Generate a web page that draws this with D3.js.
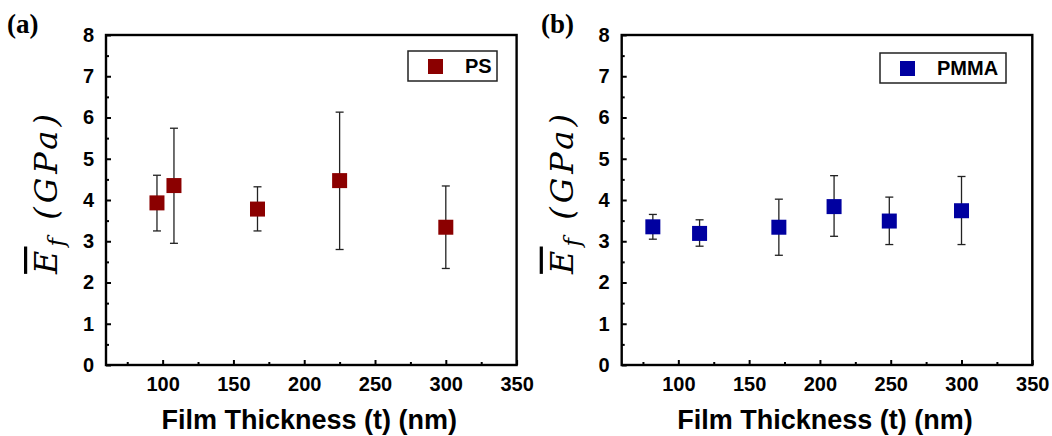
<!DOCTYPE html>
<html>
<head>
<meta charset="utf-8">
<script src="https://cdn.jsdelivr.net/npm/d3@7"></script>
<style>
  body { margin: 0; background: #fff; }
  svg text { font-family: Arial, "Liberation Sans", sans-serif; }
</style>
</head>
<body>
<div id="container"></div>
<script>
const WIDTH = 1052;
const HEIGHT = 436;

// Data
const psThickness = [96, 108, 167, 225, 300];
const psModulus   = [3.93, 4.35, 3.78, 4.47, 3.34];
const psErrTop    = [4.60, 5.74, 4.32, 6.13, 4.34];
const psErrBottom = [3.25, 2.95, 3.25, 2.80, 2.34];

const pmmaThickness = [82, 115, 171, 210, 249, 300];
const pmmaModulus   = [3.35, 3.19, 3.34, 3.84, 3.49, 3.74];
const pmmaErrTop    = [3.65, 3.52, 4.02, 4.59, 4.07, 4.57];
const pmmaErrBottom = [3.05, 2.88, 2.66, 3.12, 2.92, 2.92];

const xTicks = [100, 150, 200, 250, 300, 350];
const xMinorTicks = [75, 125, 175, 225, 275, 325];
const yTicks = [0, 1, 2, 3, 4, 5, 6, 7, 8];
const yMinorTicks = [0.5, 1.5, 2.5, 3.5, 4.5, 5.5, 6.5, 7.5];

const svg = d3.select('#container').append('svg')
    .attr('width', WIDTH)
    .attr('height', HEIGHT);

function drawPanel(cfg) {
  const x = d3.scaleLinear().domain([60, 350]).range([cfg.left, cfg.left + 410.6]);
  const y = d3.scaleLinear().domain([0, 8]).range([365, 35]);
  const g = svg.append('g');

  // frame
  g.append('rect')
    .attr('x', x.range()[0]).attr('y', y.range()[1])
    .attr('width', x.range()[1] - x.range()[0])
    .attr('height', y.range()[0] - y.range()[1])
    .attr('fill', 'none').attr('stroke', '#000').attr('stroke-width', 2.4);

  // x axis
  const xAxis = g.append('g').attr('transform', 'translate(0,' + y(0) + ')')
    .call(d3.axisBottom(x).tickValues(xTicks).tickSize(-5).tickPadding(12).tickFormat(d3.format('d')));
  xAxis.select('.domain').remove();
  xAxis.selectAll('.tick line').attr('stroke-width', 2);
  xAxis.selectAll('text').attr('font-size', 20).attr('font-weight', 'bold').attr('fill', '#000');
  const xMinor = g.append('g').attr('transform', 'translate(0,' + y(0) + ')')
    .call(d3.axisBottom(x).tickValues(xMinorTicks).tickSize(-3).tickFormat(''));
  xMinor.select('.domain').remove();
  xMinor.selectAll('.tick line').attr('stroke-width', 2);

  // y axis
  const yAxis = g.append('g').attr('transform', 'translate(' + x.range()[0] + ',0)')
    .call(d3.axisLeft(y).tickValues(yTicks).tickSize(-5).tickPadding(12));
  yAxis.select('.domain').remove();
  yAxis.selectAll('.tick line').attr('stroke-width', 2);
  yAxis.selectAll('text').attr('font-size', 20).attr('font-weight', 'bold').attr('fill', '#000');
  const yMinor = g.append('g').attr('transform', 'translate(' + x.range()[0] + ',0)')
    .call(d3.axisLeft(y).tickValues(yMinorTicks).tickSize(-3).tickFormat(''));
  yMinor.select('.domain').remove();
  yMinor.selectAll('.tick line').attr('stroke-width', 2);

  // error bars
  const idx = d3.range(cfg.xs.length);
  const eb = g.append('g').attr('stroke', '#222').attr('stroke-width', 1.3);
  eb.selectAll('line.v').data(idx).join('line').attr('class', 'v')
    .attr('x1', i => x(cfg.xs[i])).attr('x2', i => x(cfg.xs[i]))
    .attr('y1', i => y(cfg.top[i])).attr('y2', i => y(cfg.bottom[i]));
  eb.selectAll('line.t').data(idx).join('line').attr('class', 't')
    .attr('x1', i => x(cfg.xs[i]) - 4).attr('x2', i => x(cfg.xs[i]) + 4)
    .attr('y1', i => y(cfg.top[i])).attr('y2', i => y(cfg.top[i]));
  eb.selectAll('line.b').data(idx).join('line').attr('class', 'b')
    .attr('x1', i => x(cfg.xs[i]) - 4).attr('x2', i => x(cfg.xs[i]) + 4)
    .attr('y1', i => y(cfg.bottom[i])).attr('y2', i => y(cfg.bottom[i]));

  // markers
  const S = 15;
  g.selectAll('rect.pt').data(idx).join('rect').attr('class', 'pt')
    .attr('x', i => x(cfg.xs[i]) - S / 2).attr('y', i => y(cfg.ys[i]) - S / 2)
    .attr('width', S).attr('height', S)
    .attr('fill', cfg.color);

  // legend
  const lg = g.append('g').attr('transform', 'translate(' + cfg.legend[0] + ',' + cfg.legend[1] + ')');
  lg.append('rect').attr('width', cfg.legendW).attr('height', 30)
    .attr('fill', '#fff').attr('stroke', '#222').attr('stroke-width', 1.5);
  lg.append('rect').attr('x', 20).attr('y', 8).attr('width', 15).attr('height', 15).attr('fill', cfg.color);
  lg.append('text').attr('x', 57).attr('y', 22)
    .attr('font-size', 20).attr('font-weight', 'bold').text(cfg.name);

  // axis titles
  g.append('text')
    .attr('x', (x.range()[0] + x.range()[1]) / 2 - 2).attr('y', 429)
    .attr('text-anchor', 'middle').attr('font-size', 27).attr('font-weight', 'bold')
    .text('Film Thickness (t) (nm)');

  const yl = g.append('text')
    .attr('transform', 'translate(' + (x.range()[0] - 49) + ',192) rotate(-90)')
    .attr('text-anchor', 'middle')
    .style('font-family', '"DejaVu Serif", "Liberation Serif", serif')
    .style('font-style', 'italic').style('letter-spacing', '4px').attr('font-size', 32);
  yl.append('tspan').style('text-decoration', 'overline').text('E');
  yl.append('tspan').attr('font-size', 23).attr('dy', 7).text('f');
  yl.append('tspan').attr('dy', -7).text('\u00A0(GPa)');

  svg.append('text').attr('x', cfg.label[0]).attr('y', cfg.label[1])
    .style('font-family', '"Liberation Serif", "Times New Roman", serif')
    .attr('font-weight', 'bold').attr('font-size', 27).text(cfg.labelText);
}

drawPanel({
  left: 106, xs: psThickness, ys: psModulus, top: psErrTop, bottom: psErrBottom,
  color: '#8b0000', name: 'PS', legend: [408, 51], legendW: 89,
  label: [7, 33], labelText: '(a)'
});
drawPanel({
  left: 621.7, xs: pmmaThickness, ys: pmmaModulus, top: pmmaErrTop, bottom: pmmaErrBottom,
  color: '#0000a0', name: 'PMMA', legend: [880, 53], legendW: 126,
  label: [541, 33], labelText: '(b)'
});
</script>
</body>
</html>
